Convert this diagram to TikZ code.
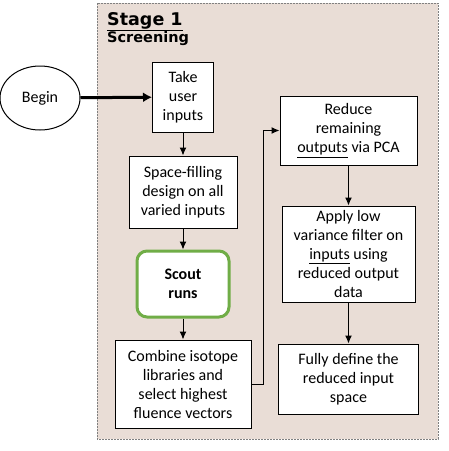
\documentclass[tikz,border=0pt]{standalone}
\usepackage{fontspec}
\setmainfont{Carlito}
\newfontfamily\stagefont{DejaVu Sans}
\usepackage{xcolor}
\usetikzlibrary{shapes,arrows.meta,positioning}
\definecolor{stagebg}{RGB}{233,221,214}
\definecolor{scoutgreen}{RGB}{112,173,71}
\tikzset{
      flowedge/.style  = {black, line width=1pt, -{Latex[length=8pt,width=7pt]}},
      startedge/.style = {black, line width=3pt, -{Latex[length=9pt,width=10pt]}},
      stepbox/.style   = {rectangle, draw, fill=white, line width=1pt, align=center,
                          inner sep=0pt, font=\fontsize{16}{19}\selectfont},
      scoutbox/.style  = {stepbox, draw=scoutgreen, line width=3pt, rounded corners=10pt,
                          font=\fontsize{16}{19}\selectfont\bfseries},
    }

\begin{document}
\begin{tikzpicture}[x=1pt, y=-1pt,
        node distance=21pt,
        ]
        \useasboundingbox (0,0) rectangle (449,451);
        % stage frame
        \draw[fill=stagebg, draw=gray, line width=0.8pt, dash pattern=on 2pt off 1pt] (97,3) rectangle (438,439);
        \node[anchor=base west, inner sep=0pt, font=\stagefont\bfseries\fontsize{17.5}{20}\selectfont] (stage) at (107,25) {\underline{Stage 1}};
        \node[anchor=base west, inner sep=0pt, font=\stagefont\bfseries\fontsize{14.5}{17}\selectfont] (screen) at (107,42) {Screening};

        \node[ellipse, draw, line width=1pt, minimum width=80pt, minimum height=64pt,
              inner sep=0pt, font=\fontsize{16}{19}\selectfont] (begin) at (40,98) {Begin};

        % left column
        \node[stepbox, minimum width=61pt, minimum height=70pt] (take) at (183,97) {Take\\user\\inputs};
        \node[stepbox, minimum width=108pt, minimum height=72pt, below=23pt of take] (space) {Space-filling\\design on all\\varied inputs};
        \node[scoutbox, minimum width=92pt, minimum height=66pt, below=21pt of space] (scout) {Scout\\runs};
        \node[stepbox, minimum width=136pt, minimum height=88pt, below=21pt of scout] (combine) {Combine isotope\\libraries and\\select highest\\fluence vectors};

        % right column
        \node[stepbox, minimum width=137pt, minimum height=69pt] (reduce) at (348.5,130.5) {Reduce\\remaining\\\underline{outputs} via PCA};
        \node[stepbox, minimum width=133pt, minimum height=96pt, below=40pt of reduce] (apply) {Apply low\\variance filter on\\\underline{inputs} using\\reduced output\\data};
        \node[stepbox, minimum width=140pt, minimum height=70pt, below=41pt of apply] (fully) {Fully define the\\reduced input\\space};

        \draw[startedge] (begin) -- (take);
        \draw[flowedge] (take) -- (space);
        \draw[flowedge] (space) -- (scout);
        \draw[flowedge] (scout) -- (combine);
        \draw[flowedge] (combine.east) -- ++(12,0) |- (reduce.west);
        \draw[flowedge] (reduce) -- (apply);
        \draw[flowedge] (apply) -- (fully);

        \end{tikzpicture}
\end{document}
